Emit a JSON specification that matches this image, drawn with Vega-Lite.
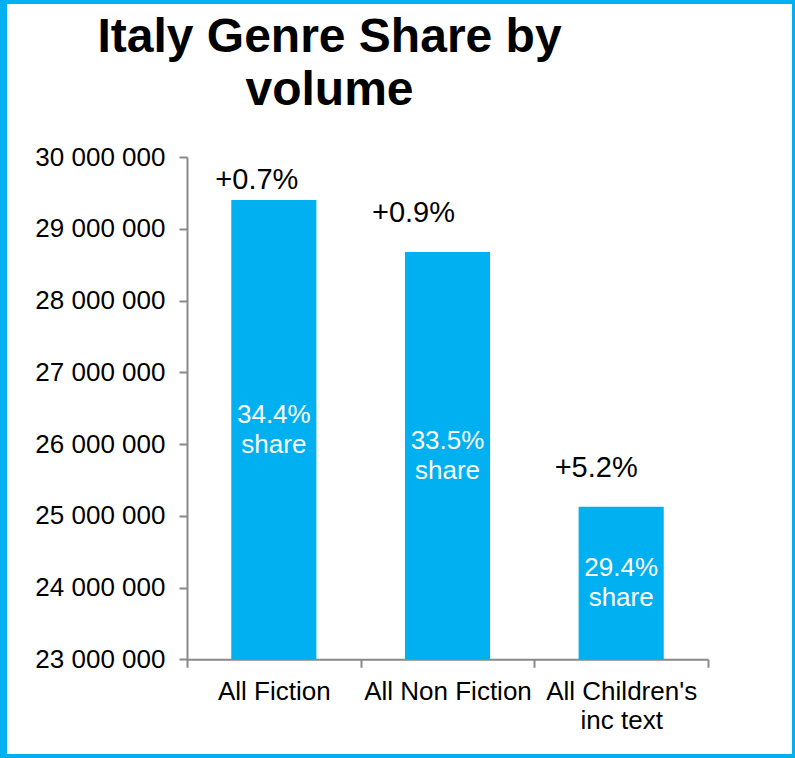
{
  "$schema": "https://vega.github.io/schema/vega-lite/v6.json",
  "autosize": {"type": "none"},
  "padding": {"left": 3, "top": 0, "right": 0, "bottom": 0},
  "width": 793,
  "height": 758,
  "background": "white",
  "config": {
    "view": {"stroke": "#00B0F0", "strokeWidth": 8, "fill": "white"},
    "font": "Liberation Sans"
  },
  "title": {
    "text": ["Italy Genre Share by", "volume"],
    "font": "Liberation Sans",
    "fontSize": 48,
    "fontWeight": "bold",
    "color": "black",
    "lineHeight": 53,
    "anchor": "middle",
    "frame": "group",
    "baseline": "top",
    "offset": 0,
    "dx": -70,
    "dy": 115
  },
  "data": {
    "values": [
      {"genre": "All Fiction", "volume": 29400000, "change": "+0.7%", "share": "34.4% share"},
      {"genre": "All Non Fiction", "volume": 28675000, "change": "+0.9%", "share": "33.5% share"},
      {"genre": "All Children's inc text", "volume": 25127000, "change": "+5.2%", "share": "29.4% share"}
    ]
  },
  "encoding": {
    "x": {
      "field": "genre",
      "type": "nominal",
      "sort": null,
      "scale": {"paddingInner": 0, "paddingOuter": 0.783, "align": 0.6765},
      "axis": {
        "title": null,
        "orient": "bottom",
        "offset": -98.7,
        "tickBand": "extent",
        "labelAngle": 0,
        "labelFont": "Liberation Sans",
        "labelFontSize": 26,
        "labelColor": "black",
        "labelPadding": 11,
        "labelLineHeight": 29,
        "labelExpr": "datum.label == \"All Children's inc text\" ? [\"All Children's\", \"inc text\"] : datum.label",
        "tickColor": "#898989",
        "tickWidth": 2,
        "tickSize": 8,
        "domainColor": "#898989",
        "domainWidth": 2,
        "domainDash": [0, 184, 521, 400],
        "grid": false
      }
    }
  },
  "layer": [
    {
      "mark": {"type": "bar", "color": "#00B0F0", "width": {"band": 0.49}},
      "encoding": {
        "y": {
          "field": "volume",
          "type": "quantitative",
          "scale": {"domain": [21624600, 32188000], "nice": false, "zero": false},
          "axis": {
            "title": null,
            "offset": -184,
            "values": [23000000, 24000000, 25000000, 26000000, 27000000, 28000000, 29000000, 30000000],
            "labelExpr": "format(datum.value / 1000000, 'd') + ' 000 000'",
            "labelFont": "Liberation Sans",
            "labelFontSize": 26,
            "labelColor": "black",
            "labelPadding": 14,
            "tickColor": "#898989",
            "tickWidth": 2,
            "tickSize": 8,
            "domainColor": "#898989",
            "domainWidth": 2,
            "domainDash": [0, 98.7, 502.3, 400],
            "grid": false
          }
        },
        "y2": {"datum": 23000000}
      }
    },
    {
      "transform": [{"filter": "datum.genre == 'All Fiction'"}],
      "mark": {"type": "text", "font": "Liberation Sans", "fontSize": 29, "color": "black", "baseline": "alphabetic", "dx": -17, "dy": -11},
      "encoding": {
        "y": {"field": "volume", "type": "quantitative", "scale": {"domain": [21624600, 32188000], "nice": false, "zero": false}, "axis": null},
        "text": {"field": "change"}
      }
    },
    {
      "transform": [{"filter": "datum.genre == 'All Non Fiction'"}],
      "mark": {"type": "text", "font": "Liberation Sans", "fontSize": 29, "color": "black", "baseline": "alphabetic", "dx": -34, "dy": -30},
      "encoding": {
        "y": {"field": "volume", "type": "quantitative", "scale": {"domain": [21624600, 32188000], "nice": false, "zero": false}, "axis": null},
        "text": {"field": "change"}
      }
    },
    {
      "transform": [{"filter": "datum.genre == \"All Children's inc text\""}],
      "mark": {"type": "text", "font": "Liberation Sans", "fontSize": 29, "color": "black", "baseline": "alphabetic", "dx": -25, "dy": -30},
      "encoding": {
        "y": {"field": "volume", "type": "quantitative", "scale": {"domain": [21624600, 32188000], "nice": false, "zero": false}, "axis": null},
        "text": {"field": "change"}
      }
    },
    {
      "mark": {"type": "text", "font": "Liberation Sans", "fontSize": 26, "color": "white", "baseline": "middle", "lineBreak": " ", "lineHeight": 30, "dy": -15},
      "encoding": {
        "y": {"field": "volume", "type": "quantitative", "scale": {"domain": [20249200, 41375400], "nice": false, "zero": false}, "axis": null},
        "text": {"field": "share"}
      }
    }
  ],
  "resolve": {"scale": {"y": "independent"}}
}
